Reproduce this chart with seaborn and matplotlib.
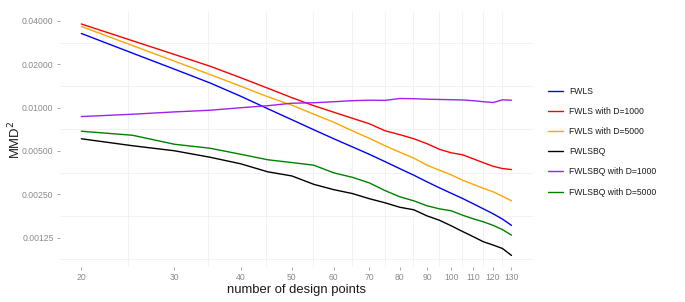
import numpy as np
import pandas as pd
import matplotlib
matplotlib.use("Agg")
import matplotlib.pyplot as plt
import seaborn as sns

# ---- data ----
n_points = [20, 25, 30, 35, 40, 45, 50, 55, 60, 65, 70, 75, 80, 85, 90, 95,
            100, 105, 110, 115, 120, 125, 130]

fwls = [0.0327, 0.02386, 0.01847, 0.01483, 0.01199, 0.00982, 0.00823, 0.00701,
        0.00607, 0.00534, 0.00474, 0.00421, 0.00376, 0.00339, 0.00305, 0.00277,
        0.00254, 0.00234, 0.00215, 0.00198, 0.00183, 0.00168, 0.00152]
fwls_d1000 = [0.03806, 0.02909, 0.02336, 0.01938, 0.01612, 0.01363, 0.01171, 0.0103,
              0.00928, 0.00843, 0.00772, 0.0069, 0.00648, 0.00607, 0.00561, 0.00513,
              0.00485, 0.0047, 0.00441, 0.00414, 0.00391, 0.00377, 0.00371]
fwls_d5000 = [0.03657, 0.02694, 0.02099, 0.01697, 0.01407, 0.01189, 0.01038, 0.00899,
              0.00791, 0.0069, 0.00612, 0.00543, 0.00489, 0.00445, 0.00398, 0.00367,
              0.00341, 0.00313, 0.00293, 0.00275, 0.0026, 0.00242, 0.00225]
fwlsbq = [0.00607, 0.00543, 0.00501, 0.00452, 0.00407, 0.00358, 0.00335, 0.00293,
          0.00269, 0.00253, 0.00233, 0.00218, 0.00203, 0.00195, 0.00177, 0.00165,
          0.00151, 0.00138, 0.00127, 0.00117, 0.00111, 0.00105, 0.00094]
fwlsbq_d1000 = [0.00866, 0.00899, 0.00933, 0.00958, 0.00997, 0.0103, 0.01072, 0.0108,
                0.01098, 0.01116, 0.01125, 0.01122, 0.01156, 0.01152, 0.01143, 0.01138,
                0.01134, 0.01129, 0.01116, 0.01098, 0.01084, 0.01131, 0.01125]
fwlsbq_d5000 = [0.00685, 0.00642, 0.00556, 0.00522, 0.00474, 0.00434, 0.00415, 0.00398,
                0.00352, 0.00328, 0.003, 0.00265, 0.0024, 0.00225, 0.00208, 0.00198,
                0.00192, 0.00179, 0.00169, 0.00161, 0.00152, 0.00142, 0.0013]

series_names = ["FWLS", "FWLS with D=1000", "FWLS with D=5000",
                "FWLSBQ", "FWLSBQ with D=1000", "FWLSBQ with D=5000"]
series_values = [fwls, fwls_d1000, fwls_d5000, fwlsbq, fwlsbq_d1000, fwlsbq_d5000]
colors = ["#0000FF", "#FF0000", "#FFA500", "#000000", "#A020F0", "#008000"]

x_ticks = [20, 30, 40, 50, 60, 70, 80, 90, 100, 110, 120, 130]
y_ticks = [0.00125, 0.0025, 0.005, 0.01, 0.02, 0.04]
y_tick_labels = ["0.00125", "0.00250", "0.00500", "0.01000", "0.02000", "0.04000"]

df = pd.concat([pd.DataFrame({"n": n_points, "mmd": v, "method": name})
                for name, v in zip(series_names, series_values)], ignore_index=True)

# ---- plot ----
sns.set_theme(style="white")
plt.rcParams["font.family"] = ["Liberation Sans", "DejaVu Sans"]

fig = plt.figure(figsize=(6.85, 3.02), dpi=100)
ax = fig.add_axes([59.8 / 685, 1 - 267 / 302, (533 - 59.8) / 685, (267 - 12.4) / 302])

sns.lineplot(data=df, x="n", y="mmd", hue="method", hue_order=series_names,
             palette=dict(zip(series_names, colors)), linewidth=1.0, ax=ax,
             legend=True, zorder=3)

ax.set_xscale("log")
ax.set_yscale("log")

# ggplot-like 5% expansion in transformed space
lx = np.log(n_points)
ex = 0.05 * (lx.max() - lx.min())
ax.set_xlim(np.exp(lx.min() - ex), np.exp(lx.max() + ex))
allv = np.log(df["mmd"].values)
ey = 0.05 * (allv.max() - allv.min())
ax.set_ylim(np.exp(allv.min() - ey), np.exp(allv.max() + ey))

ax.set_xticks(x_ticks)
ax.set_xticklabels([str(t) for t in x_ticks])
ax.set_yticks(y_ticks)
ax.set_yticklabels(y_tick_labels)
ax.minorticks_off()

# minor gridlines only (geometric midpoints)
xm = [np.sqrt(a * b) for a, b in zip(x_ticks[:-1], x_ticks[1:])]
ym = [np.sqrt(a * b) for a, b in zip(y_ticks[:-1], y_ticks[1:])] + [y_ticks[0] / np.sqrt(2)]
for v in xm:
    ax.axvline(v, color="#f0f0f0", linewidth=0.6, zorder=0)
for v in ym:
    ax.axhline(v, color="#f0f0f0", linewidth=0.6, zorder=0)
ax.grid(False)

for s in ax.spines.values():
    s.set_visible(False)

ax.tick_params(axis="both", which="major", length=2.5, width=0.6, color="#9a9a9a",
               labelsize=6.2, labelcolor="#8a8a8a", pad=2.0, direction="out",
               bottom=True, left=True)

ax.set_xlabel("number of design points", fontsize=9.4, color="#1a1a1a")
ax.set_ylabel(r"MMD$^2$", fontsize=9.4, color="#1a1a1a")
ax.xaxis.set_label_coords(0.5, -0.066)
ax.yaxis.set_label_coords(-0.077, 0.5)

leg = ax.legend(loc="center left", bbox_to_anchor=(548.3 / 685, 1 - 141.7 / 302),
                bbox_transform=fig.transFigure, frameon=False, fontsize=6.2,
                handlelength=1.74, handletextpad=0.66, labelspacing=1.3,
                borderpad=0, borderaxespad=0, title=None)
for line in leg.get_lines():
    line.set_linewidth(1.0)
for t in leg.get_texts():
    t.set_color("#1a1a1a")

fig.savefig("out.png", dpi=100)
